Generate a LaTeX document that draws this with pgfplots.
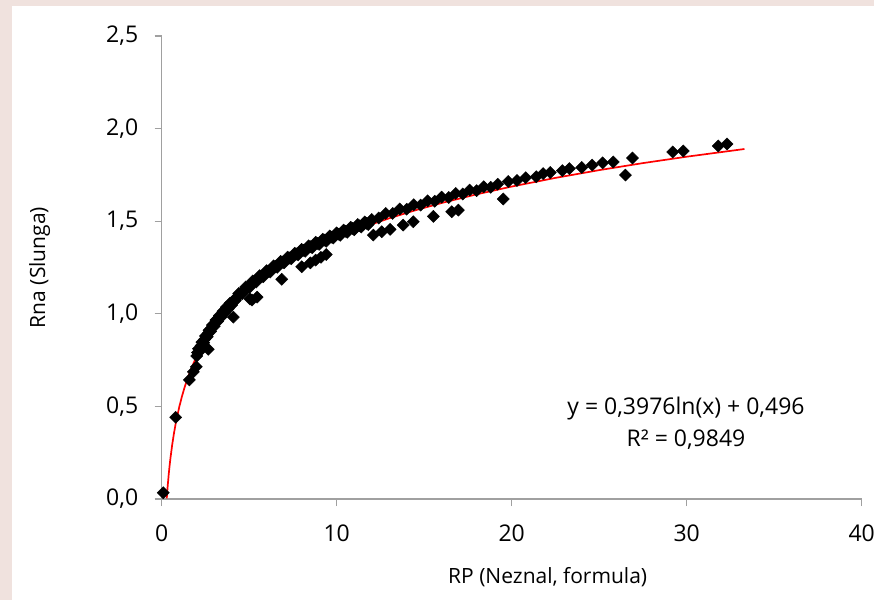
\documentclass[border=0pt]{standalone}
\usepackage{fontspec}
\setmainfont{Open Sans}
\usepackage{pgfplots}
\pgfplotsset{compat=1.18}
\usetikzlibrary{calc}
\definecolor{pinkbg}{RGB}{240,226,222}
\definecolor{axgray}{RGB}{160,160,160}
\begin{document}
\begin{tikzpicture}
\fill[pinkbg] (-161.7pt,-101pt) rectangle (712.3pt,499pt);
\fill[white] (-149.7pt,-101pt) rectangle (712.3pt,493pt);
\useasboundingbox (-161.7pt,-101pt) rectangle (712.3pt,499pt);
\begin{axis}[
 at={(0,0)}, anchor=south west,
 scale only axis, width=700pt, height=463pt,
 xmin=0, xmax=40, ymin=0, ymax=2.5,
 axis lines*=left,
 clip=false,
 axis line style={axgray, line width=1.3pt},
 tick style={axgray, line width=1.3pt},
 major tick length=7pt,
 tick align=outside,
 xtick={0,10,20,30,40},
 ytick={0,0.5,1,1.5,2,2.5},
 /pgf/number format/assume math mode=true,
 ticklabel style={font=\fontsize{23}{27}\selectfont, text=black},
 xticklabel style={yshift=-15pt},
 yticklabel style={xshift=-13pt, /pgf/number format/.cd, use comma, fixed, fixed zerofill, precision=1},
]
\addplot[only marks, mark=square*, mark size=4.3pt, mark options={rotate=45, fill=black, draw=black}] coordinates {
(0.09,0.034) (0.80,0.441) (1.58,0.643) (1.81,0.687) (1.98,0.714) (2.15,0.795)
(2.66,0.808) (4.09,0.982) (5.05,1.080) (5.45,1.090) (5.16,1.074)
(6.86,1.186) (8.0,1.254) (8.5,1.275) (8.8,1.290) (9.1,1.305) (9.4,1.320)
(12.09,1.425) (12.57,1.443) (13.05,1.456) (13.8,1.479) (14.38,1.497)
(15.52,1.526) (16.57,1.551) (16.95,1.560) (19.52,1.620)
(2.0,0.772) (2.1,0.811) (2.2,0.810) (2.3,0.847) (2.4,0.844) (2.5,0.880)
(2.6,0.876) (2.7,0.911) (2.8,0.905) (2.9,0.939) (3.0,0.933) (3.1,0.966)
(3.2,0.959) (3.3,0.991) (3.4,0.983) (3.5,1.014) (3.6,1.005) (3.7,1.036)
(3.8,1.027) (3.9,1.057) (4.0,1.047)
(2.05,0.791) (2.15,0.810) (2.25,0.828) (2.35,0.846) (2.45,0.862) (2.55,0.878)
(2.65,0.894) (2.75,0.908) (2.85,0.922) (2.95,0.936) (3.05,0.949) (3.15,0.962)
(3.25,0.975) (3.35,0.987) (3.45,0.998) (3.55,1.010) (3.65,1.021) (3.75,1.032)
(3.85,1.042) (3.95,1.052)
(4.2,1.072) (4.4,1.110) (4.6,1.108) (4.8,1.145) (5.0,1.141) (5.2,1.177)
(5.4,1.172) (5.6,1.206) (5.8,1.200) (6.0,1.233) (6.2,1.226) (6.4,1.259)
(6.6,1.251) (6.8,1.283) (7.0,1.275) (7.2,1.306) (7.4,1.297) (7.6,1.327)
(7.8,1.318) (8.0,1.348) (8.2,1.338) (8.4,1.367) (8.6,1.357) (8.8,1.386)
(9.0,1.375) (9.2,1.403) (9.4,1.392) (9.6,1.420) (9.8,1.409) (10.0,1.437)
(10.2,1.424) (10.4,1.452) (10.6,1.440) (10.8,1.467) (11.0,1.454) (11.2,1.482)
(11.4,1.469) (11.6,1.496) (11.8,1.482) (12.0,1.509)
(4.1,1.072) (4.3,1.091) (4.5,1.109) (4.7,1.126) (4.9,1.143) (5.1,1.159)
(5.3,1.174) (5.5,1.189) (5.7,1.203) (5.9,1.217) (6.1,1.230) (6.3,1.243)
(6.5,1.255) (6.7,1.267) (6.9,1.279) (7.1,1.290) (7.3,1.301) (7.5,1.312)
(7.7,1.323) (7.9,1.333) (8.1,1.343) (8.3,1.352) (8.5,1.362) (8.7,1.371)
(8.9,1.380) (9.1,1.389) (9.3,1.398) (9.5,1.406) (9.7,1.414) (9.9,1.423)
(10.1,1.430) (10.3,1.438) (10.5,1.446) (10.7,1.453) (10.9,1.461) (11.1,1.468)
(11.3,1.475) (11.5,1.482) (11.7,1.489) (11.9,1.496)
(12.4,1.517) (12.8,1.542) (13.2,1.542) (13.6,1.566) (14.0,1.565) (14.4,1.589)
(14.8,1.587) (15.2,1.610) (15.6,1.608) (16.0,1.630) (16.4,1.628) (16.8,1.650)
(17.2,1.647) (17.6,1.668) (18.0,1.665) (18.4,1.686) (18.8,1.683)
(19.2,1.700) (19.8,1.714) (20.3,1.720) (20.8,1.735) (21.4,1.740) (21.8,1.757)
(22.2,1.763) (22.9,1.773) (23.3,1.784) (24.0,1.790) (24.6,1.803) (25.2,1.815)
(25.8,1.820) (26.5,1.749) (26.9,1.841) (29.2,1.874) (29.8,1.879) (31.8,1.906) (32.3,1.917)
};
\addplot[red, line width=1.7pt, no marks] coordinates {
(0.29,0.0038) (0.32,0.043) (0.35,0.0786) (0.40,0.1317) (0.45,0.1785) (0.50,0.2204)
(0.60,0.2929) (0.70,0.3542) (0.80,0.4073) (1.0,0.496) (1.15,0.5516) (1.3,0.6003)
(1.5,0.6572) (1.7,0.7070) (2.0,0.7716) (2.2,0.8095) (2.6,0.8759) (3.0,0.9328)
(3.5,0.9941) (4.0,1.0472) (4.5,1.094) (5.0,1.1359) (5.7,1.188) (6.5,1.2402)
(7.0,1.2697) (8.0,1.3228) (9.0,1.3696) (10.0,1.4115) (11.5,1.4671) (13.0,1.5158)
(14.5,1.5592) (16.0,1.5984) (18.0,1.6452) (20.0,1.6871) (22.5,1.7339) (25.0,1.7758)
(27.5,1.8137) (30.0,1.8483) (33.3,1.8898)
};
\node[font=\fontsize{23}{27}\selectfont, anchor=center] at (axis cs:29.96,0.491) {y = 0,3976ln(x) + 0,496};
\node[font=\fontsize{23}{27}\selectfont, anchor=center] at (axis cs:29.96,0.318) {R² = 0,9849};
\node[font=\fontsize{21}{25}\selectfont, anchor=center] at ($(rel axis cs:0,0)+(386pt,-78pt)$) {RP (Neznal, formula)};
\node[font=\fontsize{21}{25}\selectfont, anchor=center, rotate=90] at ($(rel axis cs:0,0.5)+(-122pt,0pt)$) {Rna (Slunga)};
\end{axis}
\end{tikzpicture}
\end{document}
